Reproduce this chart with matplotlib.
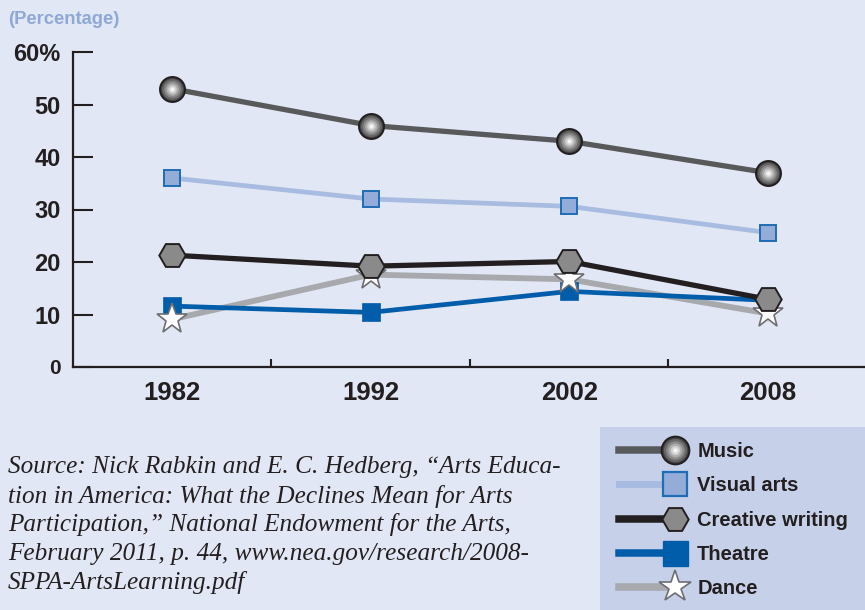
import matplotlib
matplotlib.use("Agg")
import matplotlib.pyplot as plt
import numpy as np
from matplotlib.lines import Line2D
from matplotlib.legend_handler import HandlerLine2D, HandlerTuple
from matplotlib.patches import Rectangle

# ---------------- data ----------------
years = ["1982", "1992", "2002", "2008"]
music = [53, 46, 43, 37]
visual_arts = [36, 32, 30.6, 25.6]
creative_writing = [21.3, 19.2, 20.1, 12.9]
theatre = [11.6, 10.4, 14.4, 12.7]
dance = [9.1, 17.6, 16.7, 10.2]
yticks = [0, 10, 20, 30, 40, 50, 60]
ytick_labels = ["0", "10", "20", "30", "40", "50", "60%"]
legend_labels = ["Music", "Visual arts", "Creative writing", "Theatre", "Dance"]
source_lines = [
    "Source: Nick Rabkin and E. C. Hedberg, \u201cArts Educa-",
    "tion in America: What the Declines Mean for Arts",
    "Participation,\u201d National Endowment for the Arts,",
    "February 2011, p. 44, www.nea.gov/research/2008-",
    "SPPA-ArtsLearning.pdf",
]

# ---------------- style ----------------
BG = "#E1E7F4"
LEG_BG = "#C6D1E9"
DARK = "#231F20"
C_MUSIC = "#58595B"
C_VIS = "#A8BBE1"
C_VIS_FILL = "#93ACD8"
C_VIS_EDGE = "#1E6DB6"
C_CW = "#231F20"
C_TH = "#005DAA"
C_DA = "#A7A9AC"
HEX_FILL = "#8a8a8a"

W, H = 865, 610
fig = plt.figure(figsize=(W / 100, H / 100), dpi=100, facecolor=BG)
ax = fig.add_axes([73 / W, (H - 367) / H, (W - 73) / W, (367 - 52) / H])
ax.set_facecolor(BG)

x = np.arange(len(years))

sans = "Liberation Sans"

# lines
ax.plot(x, visual_arts, color=C_VIS, lw=3.4, zorder=2, solid_capstyle="butt")
ax.plot(x, music, color=C_MUSIC, lw=3.8, zorder=2)
ax.plot(x, dance, color=C_DA, lw=4.2, zorder=2)
ax.plot(x, theatre, color=C_TH, lw=3.4, zorder=2.1)
ax.plot(x, creative_writing, color=C_CW, lw=3.8, zorder=2.2)

# markers
ax.plot(x, visual_arts, ls="none", marker="s", ms=12, mfc=C_VIS_FILL,
        mec=C_VIS_EDGE, mew=1.4, zorder=3)
ax.plot(x, theatre, ls="none", marker="s", ms=12.5, mfc=C_TH, mec=C_TH,
        mew=0.5, zorder=3.1)
ax.plot(x, dance, ls="none", marker="*", ms=23, mfc="white", mec="#6D6E71",
        mew=1.2, zorder=3.2)
ax.plot(x, creative_writing, ls="none", marker="H", ms=19, mfc=HEX_FILL,
        mec=DARK, mew=1.4, zorder=3.3)

# spheres with a radial shade
sphere_layers = [(18, "#454545"), (15, "#676767"), (12, "#8a8a8a"),
                 (9, "#adadad"), (6, "#d2d2d2"), (3, "#f4f4f4")]
for i, (s, c) in enumerate(sphere_layers):
    ax.plot(x, music, ls="none", marker="o", ms=s, mfc=c,
            mec=DARK if i == 0 else "none", mew=1.4 if i == 0 else 0,
            zorder=4 + i * 0.01)

# axes
ax.set_xlim(-0.5, 3.49)
ax.set_ylim(0, 60)
for sp in ["top", "right"]:
    ax.spines[sp].set_visible(False)
for sp in ["left", "bottom"]:
    ax.spines[sp].set_color(DARK)
    ax.spines[sp].set_linewidth(1.6)
ax.spines["bottom"].set_zorder(1)

ax.set_yticks(yticks)
ax.set_yticklabels(ytick_labels)
ax.tick_params(axis="y", direction="in", length=14.4, width=1.5, color=DARK,
               pad=9, labelsize=17, labelcolor=DARK)
for lbl in ax.get_yticklabels():
    lbl.set_fontfamily(sans)
    lbl.set_fontweight("bold")
ax.get_yticklabels()[0].set_fontsize(15)

ax.set_xticks(x)
ax.set_xticklabels(years)
ax.tick_params(axis="x", which="major", length=0, pad=10, labelsize=18.5,
               labelcolor=DARK)
for lbl in ax.get_xticklabels():
    lbl.set_fontfamily(sans)
    lbl.set_fontweight("bold")
ax.set_xticks(x[:-1] + 0.5, minor=True)
ax.tick_params(axis="x", which="minor", direction="in", length=6, width=1.5,
               color=DARK)

# "(Percentage)"
fig.text(8 / W, 1 - 20 / H, "(Percentage)", fontsize=13.2, fontweight="bold",
         family=sans, color="#8FA8D6", va="center", ha="left")

# source text
for i, line in enumerate(source_lines):
    fig.text(8 / W, 1 - (467 + 29 * i) / H, line, fontsize=18.2,
             family="Liberation Serif", style="italic", color=DARK,
             va="center", ha="left")

# legend background
fig.patches.append(Rectangle((600 / W, 0), (W - 600) / W, (610 - 427) / H,
                             transform=fig.transFigure, facecolor=LEG_BG,
                             edgecolor="none", zorder=0))


class RightMarkerHandler(HandlerLine2D):
    """Line across the handle, marker sitting at its right end."""

    def create_artists(self, legend, orig_handle, xdescent, ydescent,
                       width, height, fontsize, trans):
        y0 = (height - ydescent) / 2
        x0, x1 = -xdescent, -xdescent + width
        line = Line2D([x0, x1], [y0, y0])
        self.update_prop(line, orig_handle, legend)
        line.set_marker("None")
        mark = Line2D([x1], [y0])
        self.update_prop(mark, orig_handle, legend)
        mark.set_linestyle("None")
        line.set_transform(trans)
        mark.set_transform(trans)
        return [line, mark]


h_music = tuple(
    [Line2D([], [], color=C_MUSIC, lw=5.4)] +
    [Line2D([], [], ls="none", marker="o", ms=s * 20 / 18, mfc=c,
            mec=DARK if i == 0 else "none", mew=1.4 if i == 0 else 0)
     for i, (s, c) in enumerate(sphere_layers)])
h_vis = (Line2D([], [], color=C_VIS, lw=5.0),
         Line2D([], [], ls="none", marker="s", ms=17, mfc=C_VIS_FILL,
                mec=C_VIS_EDGE, mew=1.6))
h_cw = (Line2D([], [], color=C_CW, lw=5.4),
        Line2D([], [], ls="none", marker="H", ms=19, mfc=HEX_FILL, mec=DARK,
               mew=1.4))
h_th = (Line2D([], [], color=C_TH, lw=5.4),
        Line2D([], [], ls="none", marker="s", ms=18, mfc=C_TH, mec=C_TH))
h_da = (Line2D([], [], color=C_DA, lw=5.4),
        Line2D([], [], ls="none", marker="*", ms=24, mfc="white",
               mec="#6D6E71", mew=1.2))

handler = RightMarkerHandler()
leg = fig.legend([h_music, h_vis, h_cw, h_th, h_da], legend_labels,
                 loc="upper left", bbox_to_anchor=(619 / W, 1 - 442 / H),
                 bbox_transform=fig.transFigure, frameon=False,
                 handler_map={tuple: HandlerTuple(ndivide=1, pad=0),
                              Line2D: handler},
                 prop={"family": sans, "weight": "bold", "size": 14.5},
                 handlelength=2.78, handletextpad=1.1, labelspacing=0.76,
                 borderpad=0, borderaxespad=0)
for t in leg.get_texts():
    t.set_color(DARK)

fig.savefig("out.png", dpi=100, facecolor=BG)
